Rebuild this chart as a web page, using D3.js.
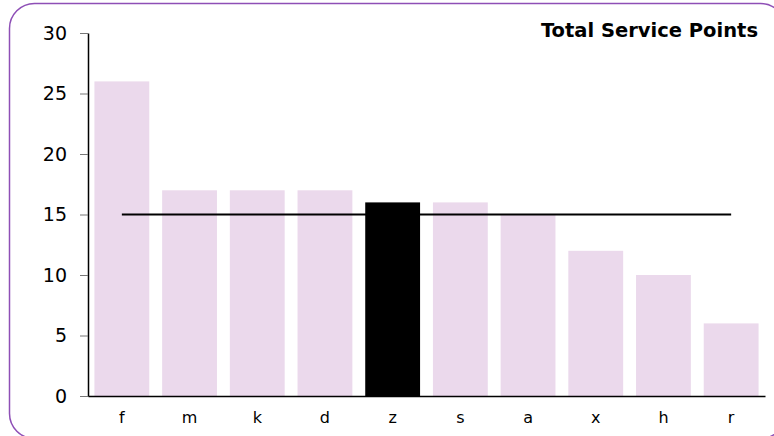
<!DOCTYPE html>
<html>
<head>
<meta charset="utf-8">
<script src="https://cdn.jsdelivr.net/npm/d3@7"></script>
<style>
  body { margin: 0; background: #fff; }
  svg { display: block; font-family: "DejaVu Sans", Verdana, sans-serif; }
</style>
</head>
<body>
<div id="chart"></div>
<script>
// data
var categories = ["f", "m", "k", "d", "z", "s", "a", "x", "h", "r"];
var points = [26, 17, 17, 17, 16, 16, 15, 12, 10, 6];
var highlight = "z";
var average = 15;
var yTicks = [0, 5, 10, 15, 20, 25, 30];
var title = "Total Service Points";

var W = 774, H = 436;
var margin = {top: 33, right: 9, bottom: 40, left: 88},
    width = W - margin.left - margin.right,
    height = H - margin.top - margin.bottom;

var root = d3.select("#chart")
  .append("svg")
    .attr("width", W)
    .attr("height", H);

// rounded frame (runs off the right and bottom edges)
root.append("rect")
  .attr("x", 9.5).attr("y", 3.5)
  .attr("width", 776).attr("height", 435)
  .attr("rx", 25).attr("ry", 25)
  .attr("fill", "none")
  .attr("stroke", "#8e4fb6")
  .attr("stroke-width", 1.5);

var svg = root.append("g")
  .attr("transform", "translate(" + margin.left + "," + margin.top + ")");

var x = d3.scaleBand()
  .domain(categories)
  .range([0, width])
  .paddingInner(0.19)
  .paddingOuter(0.095);

var y = d3.scaleLinear()
  .domain([0, 30])
  .range([height, 0]);

// bars
svg.selectAll(".bar")
  .data(categories)
  .enter().append("rect")
    .attr("x", function(d) { return x(d); })
    .attr("y", function(d, i) { return y(points[i]); })
    .attr("width", x.bandwidth())
    .attr("height", function(d, i) { return height - y(points[i]); })
    .attr("fill", function(d) { return d === highlight ? "#000" : "#ebd9ec"; });

// average line
svg.append("line")
  .attr("x1", x(categories[0]) + x.bandwidth() / 2)
  .attr("x2", x(categories[categories.length - 1]) + x.bandwidth() / 2)
  .attr("y1", y(average))
  .attr("y2", y(average))
  .attr("stroke", "#000")
  .attr("stroke-width", 2);

// Y axis
var yAxis = svg.append("g")
  .call(d3.axisLeft(y).tickValues(yTicks).tickSize(8).tickPadding(13).tickSizeOuter(0));
yAxis.select(".domain").attr("stroke", "#000").attr("stroke-width", 1.5);
yAxis.selectAll(".tick line").attr("stroke", "#777");
yAxis.selectAll(".tick text")
  .attr("font-size", 19)
  .attr("font-family", "DejaVu Sans, Verdana, sans-serif")
  .attr("fill", "#000");

// X axis
var xAxis = svg.append("g")
  .attr("transform", "translate(0," + height + ")")
  .call(d3.axisBottom(x).tickSize(0).tickPadding(16).tickSizeOuter(0));
xAxis.select(".domain").attr("stroke", "#000").attr("stroke-width", 1.5);
xAxis.selectAll(".tick text")
  .attr("font-size", 16)
  .attr("font-family", "DejaVu Sans, Verdana, sans-serif")
  .attr("fill", "#000");

// title
root.append("text")
  .attr("x", 758)
  .attr("y", 37)
  .attr("text-anchor", "end")
  .attr("font-size", 19.5)
  .attr("font-weight", "bold")
  .text(title);
</script>
</body>
</html>
